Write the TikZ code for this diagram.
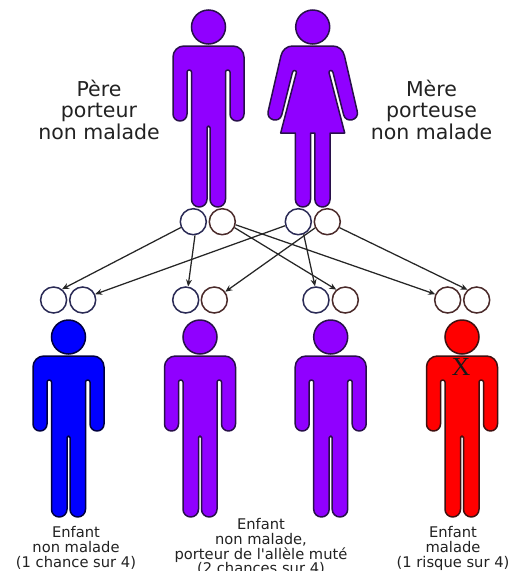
\documentclass[tikz,border=0pt]{standalone}
\usepackage{fontspec}
\setmainfont{DejaVu Sans}
\newfontfamily\serifX{Liberation Serif}
\newfontfamily\plainsans{DejaVu Sans}
\usetikzlibrary{arrows.meta}
\definecolor{purp}{HTML}{9000FF}
\definecolor{purpline}{HTML}{28104A}
\definecolor{blu}{HTML}{0000FF}
\definecolor{bluline}{HTML}{000040}
\definecolor{rouge}{HTML}{FF0000}
\definecolor{rougeline}{HTML}{401010}
\definecolor{txtgray}{HTML}{222222}
\definecolor{ringB}{HTML}{2A2A55}
\definecolor{ringR}{HTML}{4A2A2A}
\tikzset{
  head/.style={circle,draw,line width=1.5pt,minimum size=34pt,inner sep=0pt},
  body/.style={line width=1.5pt,line join=round},
  allele/.style={circle,draw,fill=white,line width=1.5pt,minimum size=26pt,inner sep=0pt},
  alB/.style={allele,draw=ringB},
  alR/.style={allele,draw=ringR},
  cross/.style={-{Stealth[length=7pt,width=6pt]},line width=1.25pt,draw=black!85},
  big/.style={align=center,text=txtgray,inner sep=0pt,font=\fontsize{20.5}{21.5}\selectfont},
  small/.style={align=center,text=txtgray,inner sep=0pt,font=\fontsize{14.7}{14.6}\selectfont},
  pics/man/.style n args={2}{code={
    \node[head,fill=#1,draw=#2] (-head) at (0,0) {};
    \draw[body,fill=#1,draw=#2]
      (0,19) -- (24.5,19) .. controls (30.6,19) and (35.5,23.9) .. (35.5,30)
      -- (35.5,87) .. controls (35.5,90.9) and (32.4,94) .. (28.5,94)
      .. controls (24.6,94) and (21.5,90.9) .. (21.5,87)
      -- (21.5,45) .. controls (21.5,43.9) and (20.5,43) .. (19.25,43)
      .. controls (18,43) and (17,43.9) .. (17,45)
      -- (17,172.3) .. controls (17,176.6) and (13.5,180) .. (9.25,180)
      .. controls (5,180) and (1.5,176.6) .. (1.5,172.3)
      -- (1.5,100.5) .. controls (1.5,99.7) and (0.8,99) .. (0,99)
      .. controls (-0.8,99) and (-1.5,99.7) .. (-1.5,100.5)
      -- (-1.5,172.3) .. controls (-1.5,176.6) and (-5,180) .. (-9.25,180)
      .. controls (-13.5,180) and (-17,176.6) .. (-17,172.3)
      -- (-17,45) .. controls (-17,43.9) and (-18,43) .. (-19.25,43)
      .. controls (-20.5,43) and (-21.5,43.9) .. (-21.5,45)
      -- (-21.5,87) .. controls (-21.5,90.9) and (-24.6,94) .. (-28.5,94)
      .. controls (-32.4,94) and (-35.5,90.9) .. (-35.5,87)
      -- (-35.5,30) .. controls (-35.5,23.9) and (-30.6,19) .. (-24.5,19)
      -- cycle;
  }},
  pics/woman/.style n args={2}{code={
    \node[head,fill=#1,draw=#2] (-head) at (0,0) {};
    \draw[body,fill=#1,draw=#2]
      (0,19) -- (20,19) .. controls (26,19) and (30.5,23) .. (31.8,29)
      -- (44.5,84.2) .. controls (46.9,93.2) and (33.3,96.8) .. (30.9,87.8)
      -- (20.3,45.5) .. controls (19.9,44) and (19,43.5) .. (18.2,43.5)
      .. controls (17,43.5) and (16,44.5) .. (16.3,45.5)
      -- (32,106) -- (17.3,106)
      -- (17.3,172.5) .. controls (17.3,176.7) and (13.9,180) .. (9.75,180)
      .. controls (5.6,180) and (2.2,176.7) .. (2.2,172.5)
      -- (2.2,106) -- (-2.2,106)
      -- (-2.2,172.5) .. controls (-2.2,176.7) and (-5.6,180) .. (-9.75,180)
      .. controls (-13.9,180) and (-17.3,176.7) .. (-17.3,172.5)
      -- (-17.3,106) -- (-32,106) -- (-16.3,45.5)
      .. controls (-16,44.5) and (-17,43.5) .. (-18.2,43.5)
      .. controls (-19,43.5) and (-19.9,44) .. (-20.3,45.5)
      -- (-30.9,87.8) .. controls (-33.3,96.8) and (-46.9,93.2) .. (-44.5,84.2)
      -- (-31.8,29) .. controls (-30.5,23) and (-26,19) .. (-20,19)
      -- cycle;
  }}
}
\begin{document}
\begin{tikzpicture}[x=1pt,y=-1pt]
\useasboundingbox (0,0) rectangle (528,571);
\fill[white] (0,0) rectangle (528,571);
\clip (0,0) rectangle (528,571);

\pic (pere) at (208.5,27) {man={purp}{purpline}};
\pic (mere) at (312.7,27) {woman={purp}{purpline}};
\pic (enfA) at (68.5,337) {man={blu}{bluline}};
\pic (enfB) at (200,337) {man={purp}{purpline}};
\pic (enfC) at (330.7,337) {man={purp}{purpline}};
\pic (enfD) at (462,337) {man={rouge}{rougeline}};

\node[font=\serifX\fontsize{26}{26}\selectfont,text=black!90,inner sep=0pt] (xmark) at (461,367) {X};

\node[alB] (p1) at (193.3,221.7) {};
\node[alR] (p2) at (222.3,221.7) {};
\node[alB] (m1) at (298.3,221.7) {};
\node[alR] (m2) at (327.3,221.7) {};
\node[alB] (a1) at (53.6,300) {};
\node[alB] (a2) at (82.7,300) {};
\node[alB] (b1) at (185.7,300) {};
\node[alR] (b2) at (214.3,300) {};
\node[alB] (c1) at (316,300) {};
\node[alR] (c2) at (345.3,300) {};
\node[alR] (d1) at (447.7,300) {};
\node[alR] (d2) at (476.7,300) {};

\draw[cross] (p1.205) -- (a1.52);
\draw[cross] (m1.197) -- (a2.25);
\draw[cross] (p1.277) -- (b1.80);
\draw[cross] (m2.207) -- (b2.37);
\draw[cross] (m1.293) -- (c1.94);
\draw[cross] (p2.334) -- (c2.131);
\draw[cross] (p2.347) -- (d1.155);
\draw[cross] (m2.334) -- (d2.132);

\node[big] (tpere) at (99,109.5) {Père\\porteur\\non malade};
\node[big] (tmere) at (431.5,109.5) {Mère\\porteuse\\non malade};
\node[small,anchor=north] (tA) at (76,526.5) {Enfant\\non malade\\(1 chance sur 4)};
\node[small,anchor=north] (tB) at (261,518.5) {Enfant\\non malade,\\porteur de l{\plainsans'}allèle muté\\(2 chances sur 4)};
\node[small,anchor=north] (tD) at (453,526.5) {Enfant\\malade\\(1 risque sur 4)};
\end{tikzpicture}
\end{document}
